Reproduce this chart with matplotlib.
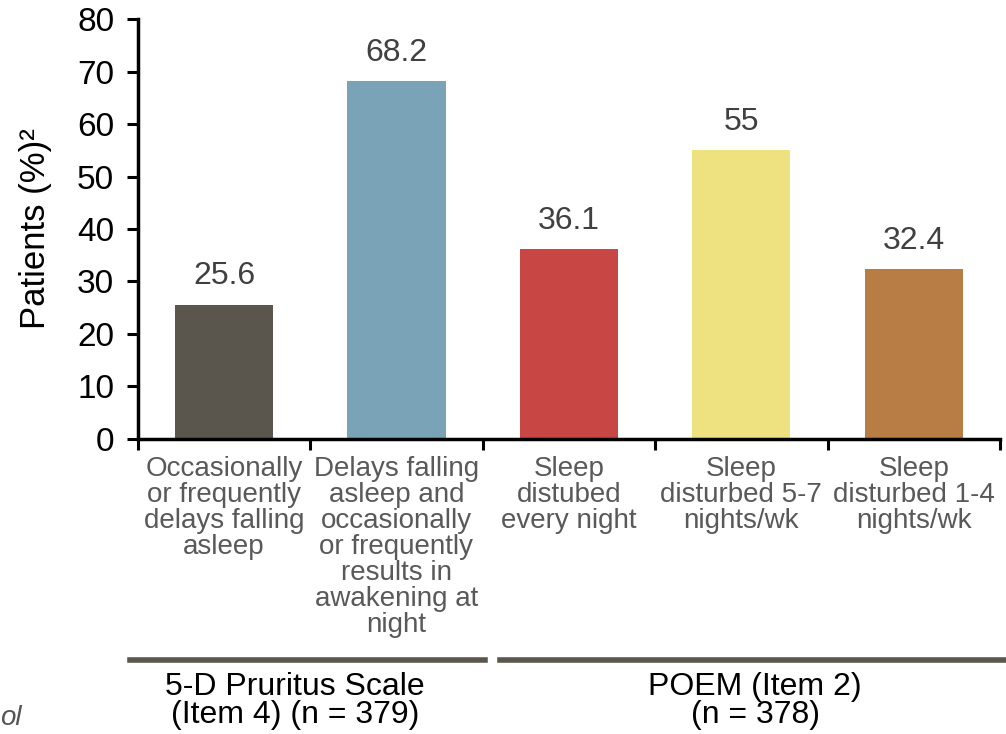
import matplotlib.pyplot as plt
import matplotlib.transforms as mtransforms

plt.rcParams['font.family'] = ['Liberation Sans', 'DejaVu Sans']

categories = [
    "Occasionally\nor frequently\ndelays falling\nasleep",
    "Delays falling\nasleep and\noccasionally\nor frequently\nresults in\nawakening at\nnight",
    "Sleep\ndistubed\nevery night",
    "Sleep\ndisturbed 5-7\nnights/wk",
    "Sleep\ndisturbed 1-4\nnights/wk",
]
values = [25.6, 68.2, 36.1, 55, 32.4]
value_labels = ["25.6", "68.2", "36.1", "55", "32.4"]
colors = ["#5b564d", "#7ba3b8", "#c84644", "#ede27f", "#b87c45"]
groups = ["5-D Pruritus Scale\n(Item 4) (n = 379)", "POEM (Item 2)\n(n = 378)"]

fig = plt.figure(figsize=(10.06, 7.34), dpi=100)
ax = fig.add_axes([0.137, 0.402, 0.857, 0.572])

x = list(range(len(values)))
ax.bar(x, values, width=0.57, color=colors, zorder=2)

for xi, v, lab in zip(x, values, value_labels):
    ax.text(xi, v + 2.5, lab, ha='center', va='bottom', fontsize=23, color='#404040')

ax.set_xlim(-0.5, 4.5)
ax.set_ylim(0, 80)
ax.set_yticks(range(0, 81, 10))
ax.tick_params(axis='y', labelsize=24, width=2.2, length=8, direction='out', pad=9)
ax.set_xticks([i - 0.5 for i in range(6)])
ax.set_xticklabels([])
ax.tick_params(axis='x', width=2.2, length=8, direction='out')
for s in ['top', 'right']:
    ax.spines[s].set_visible(False)
for s in ['left', 'bottom']:
    ax.spines[s].set_linewidth(2.5)
ax.set_ylabel("Patients (%)²", fontsize=25, labelpad=18)

# category labels under each bar
trans = mtransforms.blended_transform_factory(ax.transData, ax.transAxes)
for xi, lab in zip(x, categories):
    ax.text(xi, -0.04, lab, transform=trans,
            ha='center', va='top', fontsize=20, color='#595959', linespacing=1.0)

# group brackets
ax.plot([-0.546, 1.513], [-0.526, -0.526], color='#5b564d', lw=4, transform=trans, clip_on=False)
ax.plot([1.60, 4.54], [-0.526, -0.526], color='#5b564d', lw=4, transform=trans, clip_on=False)
ax.text(0.41, -0.555, groups[0], transform=trans, ha='center', va='top', fontsize=23, linespacing=0.92)
ax.text(3.08, -0.555, groups[1], transform=trans, ha='center', va='top', fontsize=23, linespacing=0.92)

fig.text(0.0, 0.004, "ol", fontsize=20, style='italic', color='#555555', ha='left', va='bottom')

fig.savefig("out.png", dpi=100)
